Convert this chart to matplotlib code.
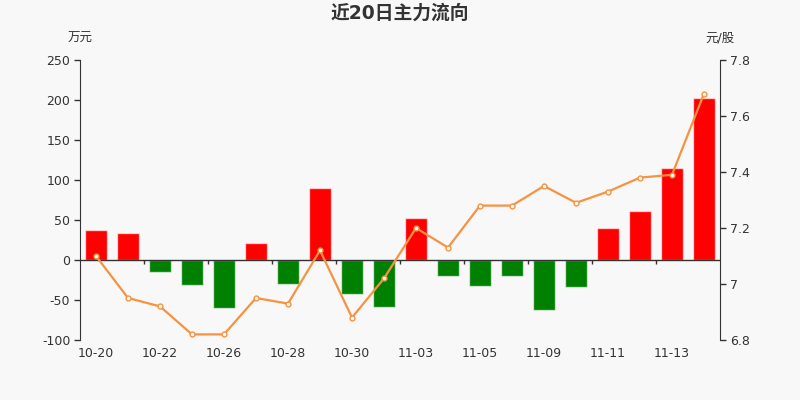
import numpy as np
import matplotlib
matplotlib.use("Agg")
import matplotlib.pyplot as plt
from matplotlib.ticker import FuncFormatter

plt.rcParams['font.family'] = ['DejaVu Sans', 'Noto Sans CJK SC']
plt.rcParams['axes.unicode_minus'] = False

# data
dates = ['10-20', '10-21', '10-22', '10-23', '10-26', '10-27', '10-28', '10-29',
         '10-30', '11-02', '11-03', '11-04', '11-05', '11-06', '11-09', '11-10',
         '11-11', '11-12', '11-13', '11-16']
flow = [37, 34, -15, -31, -60, 21, -30, 90, -43, -59,
        52, -20, -33, -20, -63, -34, 40, 61, 115, 202]
price = [7.10, 6.95, 6.92, 6.82, 6.82, 6.95, 6.93, 7.12, 6.88, 7.02,
         7.20, 7.13, 7.28, 7.28, 7.35, 7.29, 7.33, 7.38, 7.39, 7.68]

bg = '#f8f8f8'
txt = '#333333'
red = '#ff0000'
green = '#008000'
orange = '#f79240'

fig = plt.figure(figsize=(8, 4), dpi=100, facecolor=bg)
ax = fig.add_axes([0.1, 0.15, 0.8, 0.7])
ax.set_facecolor(bg)

x = np.arange(len(dates))
cols = [red if v >= 0 else green for v in flow]
ax.bar(x, flow, width=0.68, color=cols, edgecolor=(1, 1, 1, 0.6), linewidth=1, zorder=2)

ax.set_xlim(-0.5, len(dates) - 0.5)
ax.set_ylim(-100, 250)
ax.set_yticks(np.arange(-100, 251, 50))
ax.axhline(0, color=txt, lw=1, zorder=3)

# category separators on the zero line
bounds = np.arange(1.5, len(dates) - 1, 2)
ax.vlines(bounds, 0, -5, color=txt, lw=1, zorder=3)

ax.set_xticks(x[::2])
ax.set_xticklabels(dates[::2])
ax.tick_params(axis='x', length=0, pad=5, labelsize=9, colors=txt)
ax.tick_params(axis='y', length=4, width=1, labelsize=9, colors=txt, pad=3)
for s in ['top', 'right', 'bottom']:
    ax.spines[s].set_visible(False)
ax.spines['left'].set_color(txt)

ax2 = ax.twinx()
ax2.plot(x, price, color=orange, lw=1.6, marker='o', markersize=3.5,
         markerfacecolor='white', markeredgecolor=orange, markeredgewidth=1, zorder=4)
ax2.set_ylim(6.8, 7.8)
ax2.set_yticks([6.8, 7.0, 7.2, 7.4, 7.6, 7.8])
ax2.yaxis.set_major_formatter(FuncFormatter(lambda v, p: f'{v:g}'))
ax2.tick_params(axis='y', length=4, width=1, labelsize=9, colors=txt, pad=3)
for s in ['top', 'left', 'bottom']:
    ax2.spines[s].set_visible(False)
ax2.spines['right'].set_color(txt)

fig.text(0.5, 0.967, '近20日主力流向', ha='center', va='center', fontsize=13.5,
         fontweight='bold', color=txt)
fig.text(0.1, 0.905, '万元', ha='center', va='center', fontsize=9, color=txt)
fig.text(0.9, 0.905, '元/股', ha='center', va='center', fontsize=9, color=txt)

fig.savefig('out.png', dpi=100, facecolor=bg)
